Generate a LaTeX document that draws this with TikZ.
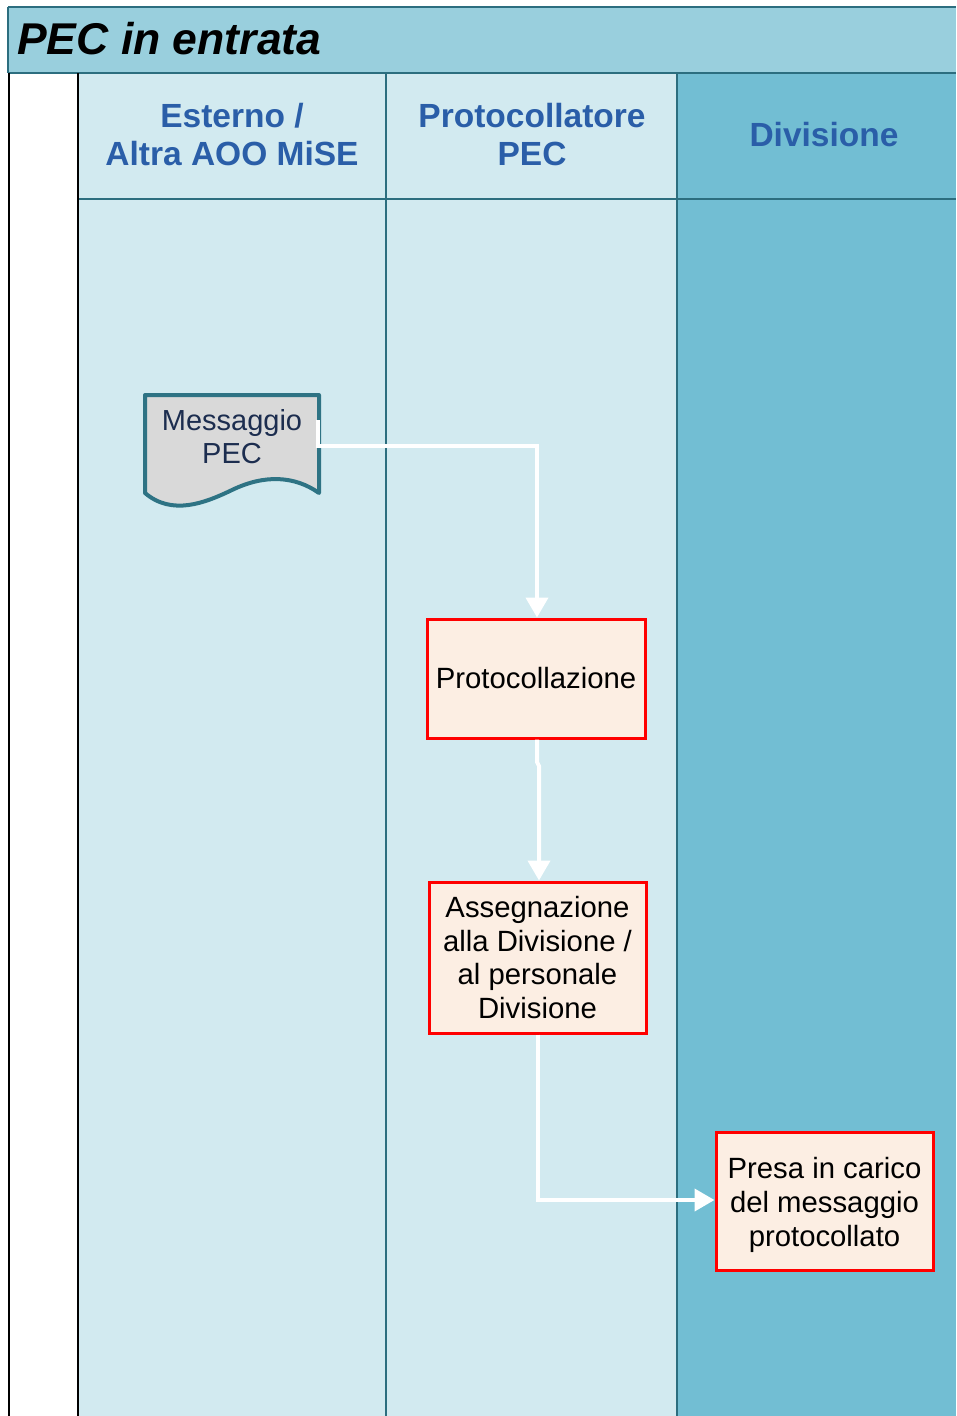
\documentclass[tikz,border=0pt]{standalone}
\usepackage{fontspec}
\setmainfont{Liberation Sans}
\usetikzlibrary{arrows.meta}
\definecolor{titlebg}{HTML}{99CFDD}
\definecolor{lanelight}{HTML}{D2EAF0}
\definecolor{lanedark}{HTML}{72BED3}
\definecolor{bordc}{HTML}{2C6E7F}
\definecolor{headc}{HTML}{2A5EA8}
\definecolor{boxfill}{HTML}{FCEEE3}
\definecolor{docfill}{HTML}{D9D9D9}
\definecolor{docline}{HTML}{2E7384}
\definecolor{doctext}{HTML}{1C2D4F}
\tikzset{
  lanehead/.style={font=\fontsize{33.5}{38}\selectfont\bfseries, text=headc, align=center, inner sep=0pt},
  procbox/.style={draw=red, line width=3pt, fill=boxfill, align=center, inner sep=0pt,
     font=\fontsize{29.3}{33.6}\selectfont, text=black},
  flow/.style={draw=white, line width=4pt, -{Triangle[width=22pt,length=20pt]}},
  divline/.style={draw=bordc, line width=2pt},
}
\begin{document}
\begin{tikzpicture}[x=1pt,y=-1pt]
\useasboundingbox (0,0) rectangle (956,1416);
\fill[white] (0,0) rectangle (956,1416);
% title band
\fill[titlebg] (8,7) rectangle (956,73);
\node[anchor=west, font=\fontsize{44.5}{50}\selectfont\bfseries\itshape, inner sep=0pt] (title) at (17,39) {PEC in entrata};
% lanes
\fill[lanelight] (78,73) rectangle (677,1416);
\fill[lanedark] (677,73) rectangle (956,1416);
\draw[divline] (8,7) -- (956,7);
\draw[divline] (8,73) -- (956,73);
\draw[divline] (8,7) -- (8,73);
\draw[divline] (78,199) -- (956,199);
\draw[divline] (386,73) -- (386,1416);
\draw[divline] (677,73) -- (677,1416);
\draw[black, line width=2pt] (9,73) -- (9,1416);
\draw[black, line width=2pt] (78,73) -- (78,1416);
% headers
\node[lanehead] (h1) at (232,135) {Esterno /\\Altra AOO MiSE};
\node[lanehead] (h2) at (532,135) {Protocollatore\\PEC};
\node[lanehead] (h3) at (824,135) {Divisione};
% document shape
\draw[docline, fill=docfill, line width=4pt, line join=round]
  (145,395) -- (319,395) -- (319,493)
  .. controls (295,476) and (265,474) .. (232,490)
  .. controls (205,503) and (172,516) .. (145,493) -- cycle;
\node[font=\fontsize{29}{33}\selectfont, text=doctext, align=center, inner sep=0pt] (msg) at (232,437) {Messaggio\\PEC};
\coordinate (msgout) at (318,420);
% process boxes
\node[procbox, minimum width=218pt, minimum height=119pt] (prot) at (536,678.5) {Protocollazione};
\node[procbox, minimum width=217pt, minimum height=151pt] (asse) at (537.5,957.5) {Assegnazione\\alla Divisione /\\al personale\\Divisione};
\node[procbox, minimum width=217pt, minimum height=138pt] (presa) at (824.5,1201) {\rule{0pt}{29pt}Presa in carico\\del messaggio\\protocollato};
% connectors
\draw[flow] (msgout) -- (318,446) -- (537,446) -- (prot.north -| 537,0);
\draw[flow] (prot.south -| 537,0) -- (537,762) -- (539,766) -- (asse.north -| 539,0);
\draw[flow] (asse.south -| 538,0) -- (538,1200) -- (presa.west |- 0,1200);
\end{tikzpicture}
\end{document}
